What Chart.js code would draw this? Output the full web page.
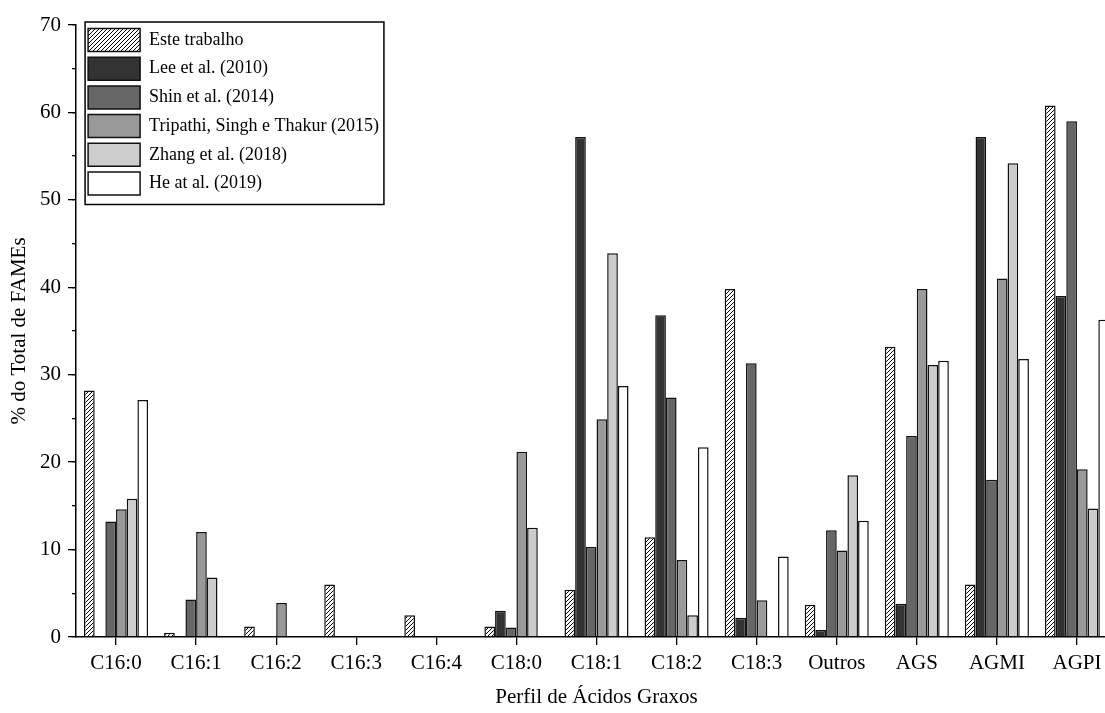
<!DOCTYPE html>
<html lang="pt">
<head>
<meta charset="utf-8">
<title>Perfil de Ácidos Graxos</title>
<script src="https://cdn.jsdelivr.net/npm/chart.js@4.4.1/dist/chart.umd.min.js"></script>
<style>
  html, body { margin: 0; padding: 0; background: #fff; overflow: hidden; }
  #perfilChart { display: block; }
</style>
</head>
<body>
<canvas id="perfilChart" width="1120" height="713"></canvas>
<script>
// =============================
// Dados: % do total de FAMEs
// =============================
const categorias = ['C16:0', 'C16:1', 'C16:2', 'C16:3', 'C16:4', 'C18:0', 'C18:1', 'C18:2', 'C18:3', 'Outros', 'AGS', 'AGMI', 'AGPI'];

const esteTrabalho = [28.2, 0.5, 1.2, 6.0, 2.5, 1.2, 5.4, 11.4, 39.8, 3.7, 33.2, 6.0, 60.8];
const lee2010      = [null, null, null, null, null, 3.0, 57.2, 36.8, 2.2, 0.8, 3.8, 57.2, 39.0];
const shin2014     = [13.2, 4.3, null, null, null, 1.1, 10.3, 27.4, 31.3, 12.2, 23.0, 18.0, 59.0];
const tripathi2015 = [14.6, 12.0, 3.9, null, null, 21.2, 24.9, 8.8, 4.2, 9.9, 39.8, 41.0, 19.2];
const zhang2018    = [15.8, 6.8, null, null, null, 12.5, 43.9, 2.5, null, 18.5, 31.1, 54.2, 14.7];
const he2019       = [27.1, null, null, null, null, null, 28.7, 21.7, 9.2, 13.3, 31.6, 31.8, 36.3];

const rotulos = ['Este trabalho', 'Lee et al. (2010)', 'Shin et al. (2014)', 'Tripathi, Singh e Thakur (2015)', 'Zhang et al. (2018)', 'He at al. (2019)'];
const ticksY = [0, 10, 20, 30, 40, 50, 60, 70];

// hachura diagonal para "Este trabalho"
function hachura() {
  const c = document.createElement('canvas');
  c.width = 4; c.height = 4;
  const g = c.getContext('2d');
  g.fillStyle = '#fff';
  g.fillRect(0, 0, 4, 4);
  g.strokeStyle = '#000';
  g.lineWidth = 1;
  g.beginPath();
  g.moveTo(0, 4); g.lineTo(4, 0);
  g.moveTo(-1, 1); g.lineTo(1, -1);
  g.moveTo(3, 5); g.lineTo(5, 3);
  g.stroke();
  return g.createPattern(c, 'repeat');
}

const familia = '"Liberation Serif", "Times New Roman", serif';
const fonteTicks = { family: familia, size: 21 };
const fonteTitulo = { family: familia, size: 21 };
const fonteLegenda = { family: familia, size: 18 };
const preenchimentos = [hachura(), '#333333', '#666666', '#999999', '#cccccc', '#ffffff'];
const series = [esteTrabalho, lee2010, shin2014, tripathi2015, zhang2018, he2019];

// posiciona a legenda no canto e desenha a moldura
const molduraLegenda = {
  id: 'molduraLegenda',
  afterLayout(chart) {
    const lg = chart.legend;
    const ca = chart.chartArea;
    const w = lg.right - lg.left, h = lg.bottom - lg.top;
    lg.left = ca.left + 6.4;
    lg.top = 22.8;
    lg.right = lg.left + w;
    lg.bottom = lg.top + h;
  },
  afterDraw(chart) {
    const lg = chart.legend;
    const boxes = lg.legendHitBoxes || [];
    if (!boxes.length) return;
    const pad = lg.options.labels.padding;
    const x0 = lg.left + pad;
    const y0 = lg.top + pad;
    const largura = Math.max(...boxes.map(b => b.width));
    const altura = boxes.reduce((s, b) => s + b.height, 0) + pad * (boxes.length - 1);
    const ctx = chart.ctx;
    ctx.save();
    ctx.strokeStyle = '#000';
    ctx.lineWidth = 1.5;
    ctx.strokeRect(x0 - 3, y0 - 6.5, largura + 8, altura + 16);
    ctx.restore();
  }
};

const ctx = document.getElementById('perfilChart');
new Chart(ctx, {
  type: 'bar',
  data: {
    labels: categorias,
    datasets: series.map((dados, i) => ({
      label: rotulos[i],
      data: dados,
      backgroundColor: preenchimentos[i],
      borderColor: '#111',
      borderWidth: 1.5,
      borderSkipped: 'start',
      categoryPercentage: 0.8,
      barPercentage: 1.0
    }))
  },
  plugins: [molduraLegenda],
  options: {
    responsive: false,
    animation: false,
    layout: { padding: { top: 25, right: 3, bottom: 0, left: 0 } },
    plugins: {
      tooltip: { enabled: false },
      legend: {
        position: 'chartArea',
        align: 'start',
        labels: {
          boxWidth: 52,
          boxHeight: 23,
          padding: 5.7,
          color: '#000',
          font: fonteLegenda
        }
      }
    },
    scales: {
      x: {
        offset: true,
        afterFit: s => { s.height = 76; },
        grid: { offset: false, drawOnChartArea: false, tickLength: 8, color: '#000', lineWidth: 1.3 },
        border: { color: '#000', width: 1.5 },
        ticks: { color: '#000', font: fonteTicks, padding: 6, maxRotation: 0, autoSkip: false },
        title: { display: true, text: 'Perfil de Ácidos Graxos', color: '#000', font: fonteTitulo, padding: { top: 0, bottom: 3 } }
      },
      y: {
        min: 0, max: 70,
        weight: 1,
        afterFit: s => { s.width = 76; },
        afterBuildTicks: s => { s.ticks = ticksY.map(v => ({ value: v })); },
        grid: { drawOnChartArea: false, tickLength: 8, color: '#000', lineWidth: 1.3 },
        border: { color: '#000', width: 1.5 },
        ticks: { color: '#000', font: fonteTicks, padding: 7 },
        title: { display: true, text: '% do Total de FAMEs', color: '#000', font: fonteTitulo, padding: { top: 7, bottom: 0 } }
      },
      // marcas menores a cada 5 unidades
      yMenor: {
        type: 'linear',
        position: 'left',
        min: 0, max: 70,
        weight: 0,
        afterFit: s => { s.width = 0; },
        grid: { drawOnChartArea: false, tickLength: 4, color: '#000', lineWidth: 1.3 },
        border: { display: false },
        ticks: { stepSize: 5, callback: () => '', padding: 0 }
      }
    }
  }
});
</script>
</body>
</html>
